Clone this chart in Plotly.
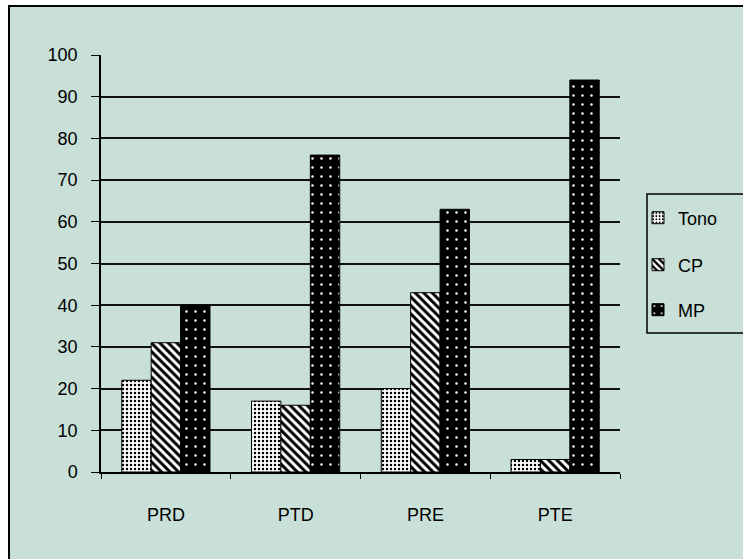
import plotly.graph_objects as go

# Chart data
categories = ["PRD", "PTD", "PRE", "PTE"]
tono = [22, 17, 20, 3]
cp = [31, 16, 43, 3]
mp = [40, 76, 63, 94]
y_ticks = [0, 10, 20, 30, 40, 50, 60, 70, 80, 90, 100]

W, H = 743, 559
L, R, T, B = 101, 123, 55, 87          # plot area margins (px)
PW, PH = W - L - R, H - T - B

def px_x(p):
    return (p - L) / PW

def px_y(p):
    return (H - B - p) / PH

BG = "#C8E0D8"
FONT = dict(family="Liberation Sans, Arial, sans-serif", size=18, color="black")

series = [
    ("Tono", tono, dict(shape=".", bgcolor="white", fgcolor="black", size=4, solidity=0.3), "legend"),
    ("CP", cp, dict(shape="\\", bgcolor="white", fgcolor="black", size=6, solidity=0.5), "legend2"),
    ("MP", mp, dict(shape=".", bgcolor="black", fgcolor="white", size=9, solidity=0.06), "legend3"),
]

fig = go.Figure()
for name, vals, pat, leg in series:
    fig.add_trace(go.Bar(
        x=categories, y=vals, name=name,
        marker=dict(color="black", pattern=dict(fillmode="replace", **pat),
                    line=dict(color="black", width=1)),
        legend=leg,
    ))

# outer chart frame and legend frame
fig.add_shape(type="rect", xref="paper", yref="paper",
              x0=px_x(9), x1=px_x(770), y0=px_y(580), y1=px_y(6),
              fillcolor=BG, line=dict(color="black", width=2), layer="below")
fig.add_shape(type="rect", xref="paper", yref="paper",
              x0=px_x(647), x1=px_x(770), y0=px_y(333), y1=px_y(194),
              fillcolor="rgba(0,0,0,0)", line=dict(color="black", width=1.5), layer="above")

leg_common = dict(xref="paper", yref="paper", xanchor="left", yanchor="middle",
                  bgcolor="rgba(0,0,0,0)", borderwidth=0, font=FONT)
legend_y = [218, 265, 310]

fig.update_layout(
    width=W, height=H,
    margin=dict(l=L, r=R, t=T, b=B, pad=0),
    paper_bgcolor="white",
    plot_bgcolor="rgba(0,0,0,0)",
    barmode="group", bargap=0.32, bargroupgap=0,
    font=FONT,
    showlegend=True,
    legend=dict(x=px_x(638), y=px_y(legend_y[0]), **leg_common),
    legend2=dict(x=px_x(638), y=px_y(legend_y[1]), **leg_common),
    legend3=dict(x=px_x(638), y=px_y(legend_y[2]), **leg_common),
    xaxis=dict(showline=True, linecolor="black", linewidth=1.5,
               ticks="outside", tickson="boundaries", ticklen=5, tickcolor="black",
               ticklabelstandoff=26, showgrid=False, tickfont=FONT),
    yaxis=dict(range=[0, 100], tickvals=y_ticks, showline=True, linecolor="black",
               linewidth=1.5, ticks="outside", ticklen=8, tickcolor="black",
               showgrid=True, gridcolor="#111111", gridwidth=1.5, zeroline=False,
               ticklabelstandoff=10, tickfont=FONT),
)

fig.write_html("out.html")
